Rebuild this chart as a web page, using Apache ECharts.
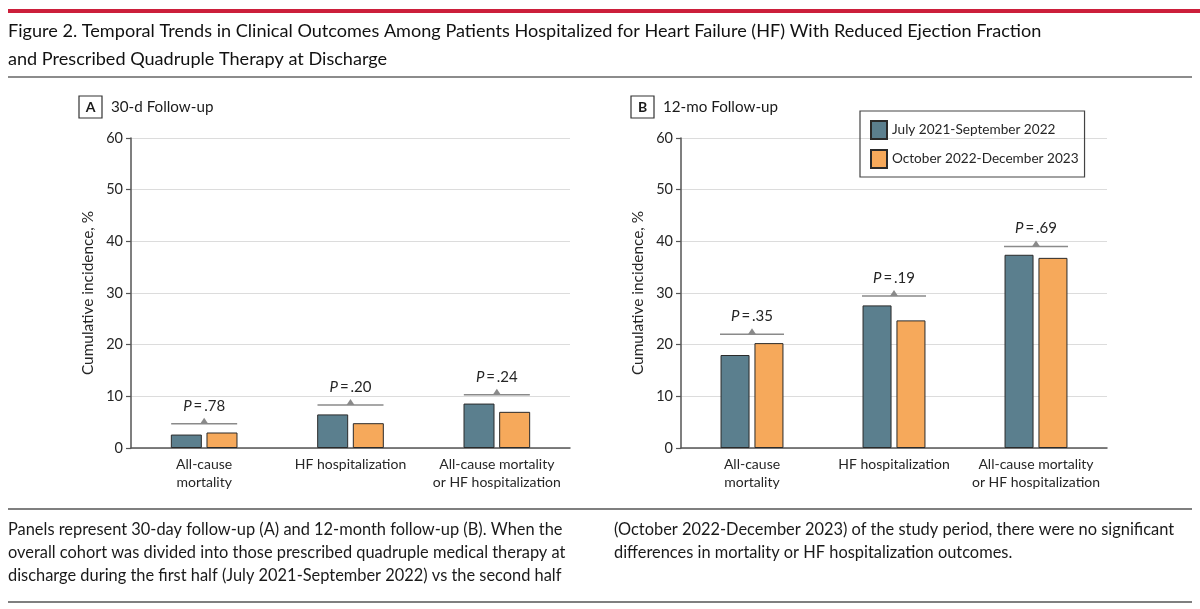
<!DOCTYPE html>
<html>
<head>
<meta charset="utf-8">
<script src="https://cdn.jsdelivr.net/npm/echarts@6/dist/echarts.min.js"></script>
<style>
html,body{margin:0;padding:0;background:#fff;}
#chart{width:1200px;height:609px;}
</style>
</head>
<body>
<div id="chart"></div>
<script>
const categories = ['All-cause\nmortality', 'HF hospitalization', 'All-cause mortality\nor HF hospitalization'];
const seriesNames = ['July 2021-September 2022', 'October 2022-December 2023'];
const a30First = [2.6, 6.5, 8.6];
const a30Second = [3.0, 4.8, 7.0];
const b12First = [18.0, 27.6, 37.4];
const b12Second = [20.3, 24.7, 36.8];
const bracketA = [4.7, 8.3, 10.3];
const pA = ['.78', '.20', '.24'];
const bracketB = [22.0, 29.4, 39.0];
const pB = ['.35', '.19', '.69'];
const yTicks = [0, 10, 20, 30, 40, 50, 60];

const FONT = 'Lato';
const BLUE = '#5b7f8e';
const ORANGE = '#f6a95b';
const TXT = '#262626';

const chart = echarts.init(document.getElementById('chart'), null, {renderer: 'canvas'});

function yAxis(gi) {
  return {
    type: 'value', gridIndex: gi, min: yTicks[0], max: yTicks[yTicks.length - 1], interval: 10,
    name: 'Cumulative incidence, %', nameLocation: 'middle', nameGap: 35,
    nameTextStyle: {fontFamily: FONT, fontSize: 15.4, color: TXT},
    axisLine: {show: true, lineStyle: {color: '#555', width: 1.5}},
    axisTick: {show: true, length: 5, lineStyle: {color: '#555', width: 1.2}},
    axisLabel: {fontFamily: FONT, fontSize: 14.5, color: TXT, margin: 8},
    splitLine: {show: true, lineStyle: {color: '#dcdcdc', width: 1}}
  };
}
function xAxis(gi) {
  return {
    type: 'category', gridIndex: gi, data: categories,
    axisLine: {show: true, lineStyle: {color: '#555', width: 1.5}},
    axisTick: {show: false},
    axisLabel: {fontFamily: FONT, fontSize: 14, color: TXT, lineHeight: 18, margin: 7, interval: 0}
  };
}
function barSeries(name, data, color, gi, bw, gap) {
  return {
    type: 'bar', name: name, xAxisIndex: gi, yAxisIndex: gi, data: data,
    barWidth: bw, barGap: gap,
    itemStyle: {color: color, borderColor: '#2a2a2a', borderWidth: 1},
    emphasis: {disabled: true}, z: 2
  };
}
function bracketSeries(values, pvals, gi, hw) {
  return {
    type: 'custom', xAxisIndex: gi, yAxisIndex: gi, z: 5, silent: true,
    data: values.map((v, i) => [i, v]),
    renderItem: function (params, api) {
      const c = api.coord([api.value(0), api.value(1)]);
      const p = pvals[params.dataIndex];
      return {
        type: 'group',
        children: [
          {type: 'line', shape: {x1: c[0] - hw, y1: c[1], x2: c[0] + hw, y2: c[1]},
           style: {stroke: '#8a8a8a', lineWidth: 1.5}},
          {type: 'polygon', shape: {points: [[c[0] - 4, c[1]], [c[0] + 4, c[1]], [c[0], c[1] - 6]]},
           style: {fill: '#8a8a8a'}},
          {type: 'text', x: c[0], y: c[1] - 18,
           style: {text: '{i|P}{n|\u2009=\u2009' + p + '}', align: 'center', verticalAlign: 'middle',
             rich: {i: {fontFamily: FONT, fontSize: 15, fontStyle: 'italic', fill: TXT},
                    n: {fontFamily: FONT, fontSize: 15, fill: TXT}}}}
        ]
      };
    }
  };
}

const option = {
  animation: false,
  backgroundColor: '#fff',
  textStyle: {fontFamily: FONT},
  grid: [
    {left: 131, right: 630, top: 138, bottom: 161},
    {left: 681, right: 93, top: 138, bottom: 161}
  ],
  xAxis: [xAxis(0), xAxis(1)],
  yAxis: [yAxis(0), yAxis(1)],
  legend: {
    data: seriesNames, orient: 'vertical', left: 860, top: 111,
    itemWidth: 16, itemHeight: 18, itemGap: 9,
    padding: [9, 6, 8, 10],
    borderColor: '#444', borderWidth: 1.2,
    textStyle: {fontFamily: FONT, fontSize: 13.6, color: TXT},
    icon: 'rect', selectedMode: false
  },
  series: [
    barSeries(seriesNames[0], a30First, BLUE, 0, 31, '15%'),
    barSeries(seriesNames[1], a30Second, ORANGE, 0, 31, '15%'),
    barSeries(seriesNames[0], b12First, BLUE, 1, 29, '17%'),
    barSeries(seriesNames[1], b12Second, ORANGE, 1, 29, '17%'),
    bracketSeries(bracketA, pA, 0, 33),
    bracketSeries(bracketB, pB, 1, 32)
  ],
  graphic: [
    {type: 'rect', shape: {x: 8, y: 9, width: 1192, height: 4}, style: {fill: '#cc1f3b'}},
    {type: 'text', x: 8, y: 31, style: {text: 'Figure 2. Temporal Trends in Clinical Outcomes Among Patients Hospitalized for Heart Failure (HF) With Reduced Ejection Fraction', fontFamily: FONT, fontSize: 18.1, fill: '#111', verticalAlign: 'middle'}},
    {type: 'text', x: 8, y: 59, style: {text: 'and Prescribed Quadruple Therapy at Discharge', fontFamily: FONT, fontSize: 18.1, fill: '#111', verticalAlign: 'middle'}},
    {type: 'line', shape: {x1: 8, y1: 77, x2: 1192, y2: 77}, style: {stroke: '#666', lineWidth: 1.5}},
    {type: 'rect', shape: {x: 79, y: 96, width: 23, height: 22}, style: {fill: 'none', stroke: '#333', lineWidth: 1.2}},
    {type: 'text', x: 90.5, y: 107, style: {text: 'A', fontFamily: FONT, fontSize: 14, fontWeight: 'bold', fill: '#1a1a1a', align: 'center', verticalAlign: 'middle'}},
    {type: 'text', x: 111, y: 107, style: {text: '30-d Follow-up', fontFamily: FONT, fontSize: 15.2, fill: '#1a1a1a', verticalAlign: 'middle'}},
    {type: 'rect', shape: {x: 631, y: 96, width: 23, height: 22}, style: {fill: 'none', stroke: '#333', lineWidth: 1.2}},
    {type: 'text', x: 642.5, y: 107, style: {text: 'B', fontFamily: FONT, fontSize: 14, fontWeight: 'bold', fill: '#1a1a1a', align: 'center', verticalAlign: 'middle'}},
    {type: 'text', x: 663, y: 107, style: {text: '12-mo Follow-up', fontFamily: FONT, fontSize: 15.2, fill: '#1a1a1a', verticalAlign: 'middle'}},
    {type: 'line', shape: {x1: 8, y1: 509, x2: 1192, y2: 509}, style: {stroke: '#555', lineWidth: 1.5}},
    {type: 'text', x: 8, y: 518.5, style: {text: 'Panels represent 30-day follow-up (A) and 12-month follow-up (B). When the\noverall cohort was divided into those prescribed quadruple medical therapy at\ndischarge during the first half (July 2021-September 2022) vs the second half', fontFamily: FONT, fontSize: 16.4, lineHeight: 23, fill: '#1a1a1a', verticalAlign: 'top'}},
    {type: 'text', x: 614, y: 518.5, style: {text: '(October 2022-December 2023) of the study period, there were no significant\ndifferences in mortality or HF hospitalization outcomes.', fontFamily: FONT, fontSize: 16.4, lineHeight: 23, fill: '#1a1a1a', verticalAlign: 'top'}},
    {type: 'line', shape: {x1: 8, y1: 602, x2: 1192, y2: 602}, style: {stroke: '#555', lineWidth: 1.5}}
  ]
};
chart.setOption(option);
</script>
</body>
</html>
